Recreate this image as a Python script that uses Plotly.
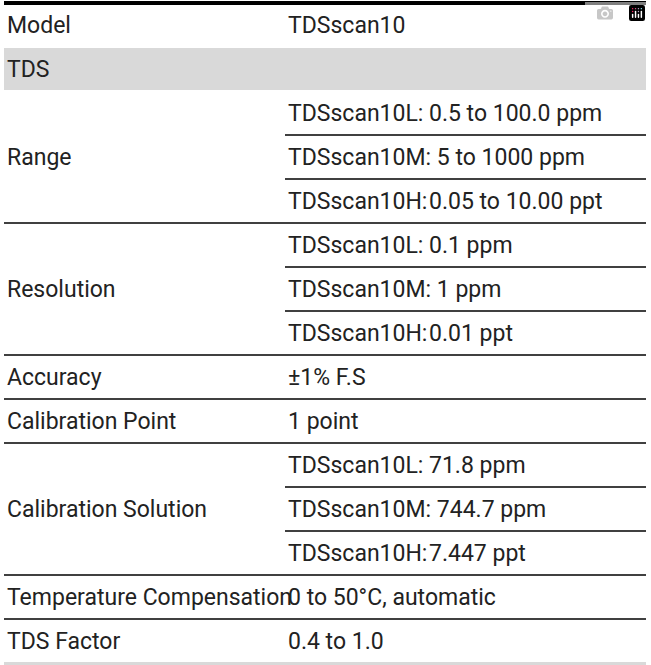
import plotly.graph_objects as go

labels = ["Model", "TDS", "Range", "Resolution", "Accuracy", "Calibration Point",
          "Calibration Solution", "Temperature Compensation", "TDS Factor"]
subs = [
    [("TDSscan10", None)],
    [],
    [("TDSscan10L:", "0.5 to 100.0 ppm"), ("TDSscan10M: 5 to 1000 ppm", None), ("TDSscan10H:", "0.05 to 10.00 ppt")],
    [("TDSscan10L:", "0.1 ppm"), ("TDSscan10M: 1 ppm", None), ("TDSscan10H:", "0.01 ppt")],
    [("±1% F.S", None)],
    [("1 point", None)],
    [("TDSscan10L:", "71.8 ppm"), ("TDSscan10M: 744.7 ppm", None), ("TDSscan10H:", "7.447 ppt")],
    [("0 to 50°C, automatic", None)],
    [("0.4 to 1.0", None)],
]

FONT = dict(family="Roboto, sans-serif", size=23, color="#222222")
RH = 44
TOP = 3
X0, X1, XC, XV = 4, 646, 285, 427

fig = go.Figure()
shapes, ann = [], []
row = 0
for i, (lab, sl) in enumerate(zip(labels, subs)):
    n = max(1, len(sl))
    y0 = TOP + row * RH
    y1 = y0 + n * RH
    if lab == "TDS":
        shapes.append(dict(type="rect", x0=X0, x1=X1, y0=y0 + 1, y1=y1 - 1, fillcolor="#d9d9d9", line_width=0, layer="below"))
    ann.append(dict(x=X0 + 1, y=(y0 + y1) / 2, text=lab, xanchor="left", yanchor="middle", showarrow=False, font=FONT))
    for k, (s, v) in enumerate(sl):
        yc = y0 + k * RH + RH / 2
        ann.append(dict(x=XC + 1, y=yc, text=s, xanchor="left", yanchor="middle", showarrow=False, font=FONT))
        if v:
            ann.append(dict(x=XV, y=yc, text=v, xanchor="left", yanchor="middle", showarrow=False, font=FONT))
        if k < n - 1:
            shapes.append(dict(type="line", x0=XC, x1=X1, y0=y0 + (k + 1) * RH, y1=y0 + (k + 1) * RH, line=dict(color="black", width=1.3)))
    if i > 0 and lab != "TDS" and labels[i - 1] != "TDS":
        shapes.append(dict(type="line", x0=X0, x1=X1, y0=y0, y1=y0, line=dict(color="black", width=1.3)))
    row += n

shapes.append(dict(type="line", x0=X0, x1=X1, y0=TOP, y1=TOP, line=dict(color="black", width=4)))
yb = TOP + row * RH
shapes.append(dict(type="rect", x0=X0, x1=X1, y0=yb - 1, y1=yb + 3, fillcolor="#d9d9d9", line_width=0))

fig.update_layout(width=651, height=665, margin=dict(l=0, r=0, t=0, b=0),
                  plot_bgcolor="white", paper_bgcolor="white",
                  xaxis=dict(range=[0, 651], visible=False, fixedrange=True),
                  yaxis=dict(range=[665, 0], visible=False, fixedrange=True),
                  shapes=shapes, annotations=ann, showlegend=False)
fig.write_html("out.html", post_script="document.body.style.margin='0';")
